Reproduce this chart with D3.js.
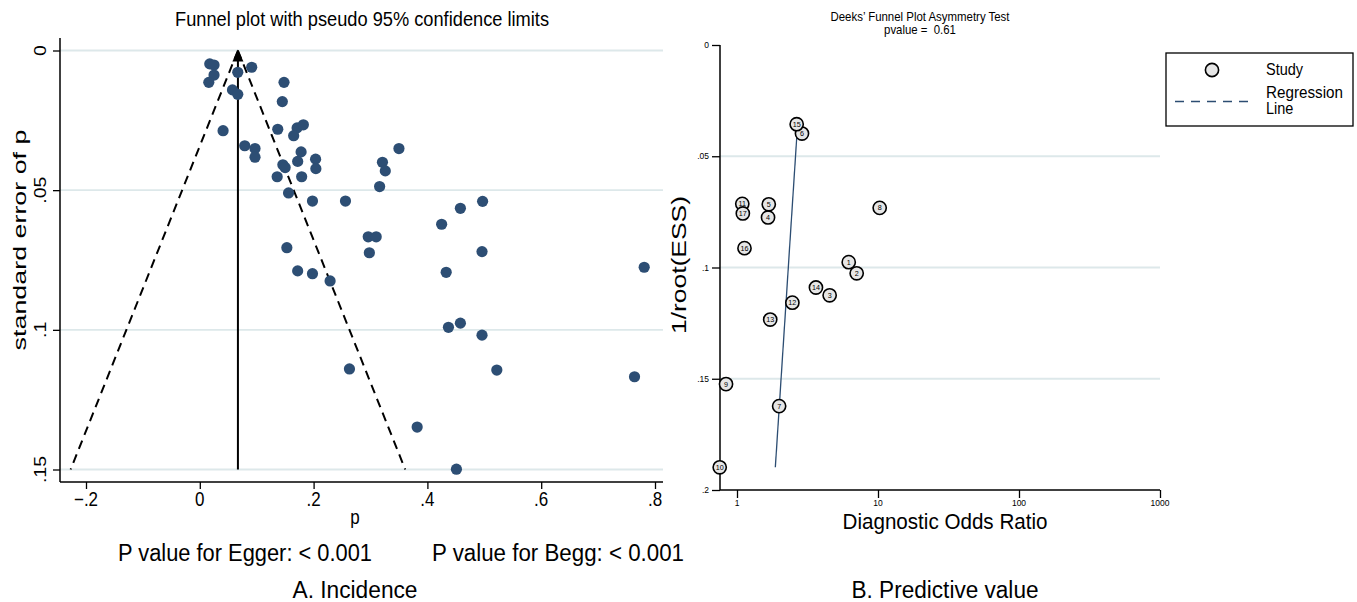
<!DOCTYPE html>
<html><head><meta charset="utf-8">
<script src="https://cdn.jsdelivr.net/npm/d3@7"></script>
<style>
body{margin:0;background:#fff}
svg{display:block}
text{font-family:"Liberation Sans",Arial,Helvetica,sans-serif;fill:#000;white-space:pre}
</style>
</head><body>
<svg id="chart" width="1357" height="602"></svg>
<script>
// ---------- Panel A: incidence funnel plot ----------
const incidenceP = [0.0175,0.025,0.025,0.0158,0.0667,0.0912,0.0574,0.0667,0.148,0.145,
  0.0409,0.137,0.171,0.182,0.165,0.079,0.097,0.097,0.178,0.172,
  0.2035,0.204,0.146,0.150,0.136,0.179,0.156,0.198,0.256,0.316,
  0.321,0.326,0.350,0.153,0.172,0.198,0.229,0.296,0.310,0.298,
  0.497,0.458,0.425,0.496,0.433,0.781,0.437,0.458,0.496,0.522,
  0.764,0.382,0.451,0.263];
const incidenceSE = [0.0048,0.0052,0.0088,0.0114,0.0078,0.0060,0.0141,0.0157,0.0114,0.0183,
  0.0287,0.0282,0.0277,0.0266,0.0305,0.0341,0.0351,0.0382,0.0363,0.0397,
  0.0389,0.0423,0.0409,0.0419,0.0452,0.0452,0.0510,0.0539,0.0539,0.0487,
  0.0400,0.0431,0.0351,0.0706,0.0789,0.0799,0.0825,0.0667,0.0667,0.0724,
  0.0540,0.0565,0.0622,0.0720,0.0794,0.0776,0.0991,0.0976,0.1019,0.1144,
  0.1168,0.1348,0.1499,0.1140];
const pooledP = 0.067;
const funnelMaxSE = 0.15;
const leftXTicks = [-0.2,0,0.2,0.4,0.6,0.8];
const leftXTickLabels = ["\u2212.2","0",".2",".4",".6",".8"];
const leftYTicks = [0,0.05,0.1,0.15];
const leftYTickLabels = ["0",".05",".1",".15"];

// ---------- Panel B: Deeks' funnel plot ----------
const studyIds = [1,2,3,4,5,6,7,8,9,10,11,12,13,14,15,16,17];
const studyDOR = [6.20,7.06,4.54,1.66,1.68,2.89,1.99,10.28,0.836,0.754,1.09,2.47,1.72,3.63,2.65,1.13,1.10];
const studyESS = [0.0976,0.1026,0.1125,0.0775,0.0716,0.0398,0.1623,0.0732,0.1524,0.1898,0.0714,0.1158,0.1234,0.1090,0.0356,0.0913,0.0757];
const regressionESS = [0.0356,0.1898];
const regressionDOR = [2.69,1.87];
const rightXTicks = [1,10,100,1000];
const rightYTicks = [0,0.05,0.1,0.15,0.2];
const rightYTickLabels = ["0",".05",".1",".15",".2"];

const svg = d3.select("#chart");
const VS = 1.15; // vertical stretch of the original figure's lettering
const GRID = "#dde8ea";
const DOT = "#2d4e74";

function label(g, x, y, s, size, opt = {}) {
  const rot = opt.rotate ? " rotate(-90) scale(" + VS + ",1)" : " scale(1," + VS + ")";
  const t = g.append("text")
    .attr("transform", "translate(" + x + "," + y + ")" + rot)
    .attr("font-size", size)
    .attr("text-anchor", opt.anchor || "middle")
    .attr("xml:space", "preserve")
    .text(s);
  if (opt.len) t.attr("textLength", opt.len).attr("lengthAdjust", "spacingAndGlyphs");
  return t;
}

// ===== Panel A =====
const A = svg.append("g");
const xA = d3.scaleLinear().domain([-0.2, 0.8]).range([86, 655]);
const yA = d3.scaleLinear().domain([0, 0.15]).range([50.5, 469.5]);
const axL = 60, axR = 663, axB = 482, axT = 38;

A.selectAll("line.grid").data(leftYTicks).join("line")
  .attr("x1", axL).attr("x2", axR).attr("y1", d => yA(d)).attr("y2", d => yA(d))
  .attr("stroke", GRID).attr("stroke-width", 1.8);

const yAxisA = d3.axisLeft(yA).tickValues(leftYTicks).tickSize(7).tickFormat("");
const gyA = A.append("g").attr("transform", "translate(" + axL + ",0)").call(yAxisA);
gyA.select(".domain").remove();
gyA.selectAll(".tick line").attr("stroke", "#000").attr("stroke-width", 1.3);
A.append("line").attr("x1", axL).attr("x2", axL).attr("y1", axT).attr("y2", axB).attr("stroke", "#000").attr("stroke-width", 1.5);

const xAxisA = d3.axisBottom(xA).tickValues(leftXTicks).tickSize(7).tickFormat("");
const gxA = A.append("g").attr("transform", "translate(0," + axB + ")").call(xAxisA);
gxA.select(".domain").remove();
gxA.selectAll(".tick line").attr("stroke", "#000").attr("stroke-width", 1.3);
A.append("line").attr("x1", axL).attr("x2", axR).attr("y1", axB).attr("y2", axB).attr("stroke", "#000").attr("stroke-width", 1.5);

leftXTicks.forEach((v, i) => label(A, xA(v), 506, leftXTickLabels[i], 17));
leftYTicks.forEach((v, i) => label(A, 46, yA(v), leftYTickLabels[i], 17, {rotate: true}));

label(A, 26, 240, "standard error of p", 17.5, {rotate: true, len: 192});
label(A, 355, 524, "p", 17);
label(A, 362, 26, "Funnel plot with pseudo 95% confidence limits", 18, {len: 374});

// funnel limits
const zc = 1.96;
[-1, 1].forEach(sgn => {
  A.append("line")
    .attr("x1", xA(pooledP)).attr("y1", yA(0))
    .attr("x2", xA(pooledP + sgn * zc * funnelMaxSE)).attr("y2", yA(funnelMaxSE))
    .attr("stroke", "#000").attr("stroke-width", 2).attr("stroke-dasharray", "9,6");
});
A.append("line")
  .attr("x1", xA(pooledP)).attr("x2", xA(pooledP))
  .attr("y1", yA(funnelMaxSE)).attr("y2", yA(0) + 8)
  .attr("stroke", "#000").attr("stroke-width", 2);
A.append("path")
  .attr("d", "M" + xA(pooledP) + "," + (yA(0) - 1) + " l-5.5,12 l11,0 z")
  .attr("fill", "#000");

A.selectAll("circle.pt").data(incidenceP.map((p, i) => [p, incidenceSE[i]])).join("circle")
  .attr("cx", d => xA(d[0])).attr("cy", d => yA(d[1])).attr("r", 5.6)
  .attr("fill", DOT);

label(A, 245, 561, "P value for Egger: < 0.001", 21, {len: 254});
label(A, 558, 561, "P value for Begg: < 0.001", 21, {len: 252});
label(A, 355, 598, "A. Incidence", 21, {len: 125});

// ===== Panel B =====
const B = svg.append("g");
const xB = d3.scaleLog().domain([1, 1000]).range([737, 1160]);
const yB = d3.scaleLinear().domain([0, 0.2]).range([45, 490]);
const bL = 720, bR = 1160;

B.selectAll("line.grid").data([0.05, 0.1, 0.15]).join("line")
  .attr("x1", bL).attr("x2", bR).attr("y1", d => yB(d)).attr("y2", d => yB(d))
  .attr("stroke", GRID).attr("stroke-width", 1.8);

const yAxisB = d3.axisLeft(yB).tickValues(rightYTicks).tickSize(8).tickFormat("");
const gyB = B.append("g").attr("transform", "translate(" + bL + ",0)").call(yAxisB);
gyB.select(".domain").remove();
gyB.selectAll(".tick line").attr("stroke", "#000").attr("stroke-width", 1.3);
B.append("line").attr("x1", bL).attr("x2", bL).attr("y1", yB(0)).attr("y2", yB(0.2)).attr("stroke", "#000").attr("stroke-width", 1.5);

const xAxisB = d3.axisBottom(xB).tickValues(rightXTicks).tickSize(8).tickFormat("");
const gxB = B.append("g").attr("transform", "translate(0," + yB(0.2) + ")").call(xAxisB);
gxB.select(".domain").remove();
gxB.selectAll(".tick line").attr("stroke", "#000").attr("stroke-width", 1.3);
B.append("line").attr("x1", bL).attr("x2", bR).attr("y1", yB(0.2)).attr("y2", yB(0.2)).attr("stroke", "#000").attr("stroke-width", 1.5);

rightXTicks.forEach(v => label(B, xB(v), 506, String(v), 8.5));
rightYTicks.forEach((v, i) => label(B, 709, yB(v) + 3, rightYTickLabels[i], 8.5, {anchor: "end"}));

label(B, 945, 529, "Diagnostic Odds Ratio", 19, {len: 205});
label(B, 686, 265, "1/root(ESS)", 20, {rotate: true, len: 120});
label(B, 920, 21, "Deeks\u2019 Funnel Plot Asymmetry Test", 11.4, {len: 179});
label(B, 920, 34, "pvalue =  0.61", 11.4);

const reg = d3.line().x(d => xB(d[0])).y(d => yB(d[1]));
B.append("path").datum(regressionDOR.map((v, i) => [v, regressionESS[i]]))
  .attr("d", reg).attr("fill", "none").attr("stroke", "#2c4d72").attr("stroke-width", 1.3);

const studies = studyIds.map((id, i) => ({id, dor: studyDOR[i], ess: studyESS[i]}));
const sg = B.selectAll("g.study").data(studies).join("g")
  .attr("transform", d => "translate(" + xB(d.dor) + "," + yB(d.ess) + ")");
sg.append("circle").attr("r", 6.6).attr("fill", "#e6e6e6").attr("stroke", "#000").attr("stroke-width", 1.6);
sg.append("text").attr("text-anchor", "middle").attr("y", 2.6).attr("font-size", 7.2).attr("fill", "#222").text(d => d.id);

label(B, 945, 598, "B. Predictive value", 21, {len: 187});

// legend
const L = svg.append("g");
L.append("rect").attr("x", 1166).attr("y", 53).attr("width", 187).attr("height", 73)
  .attr("fill", "#fff").attr("stroke", "#000").attr("stroke-width", 1.3);
L.append("circle").attr("cx", 1212).attr("cy", 70).attr("r", 6.6)
  .attr("fill", "#e6e6e6").attr("stroke", "#000").attr("stroke-width", 1.6);
L.append("line").attr("x1", 1175).attr("x2", 1252).attr("y1", 101.5).attr("y2", 101.5)
  .attr("stroke", "#2c4d72").attr("stroke-width", 1.3).attr("stroke-dasharray", "9,7");
label(L, 1266, 75, "Study", 14.5, {anchor: "start"});
label(L, 1266, 98, "Regression", 14.5, {anchor: "start", len: 77});
label(L, 1266, 114, "Line", 14.5, {anchor: "start"});
</script>
</body></html>
